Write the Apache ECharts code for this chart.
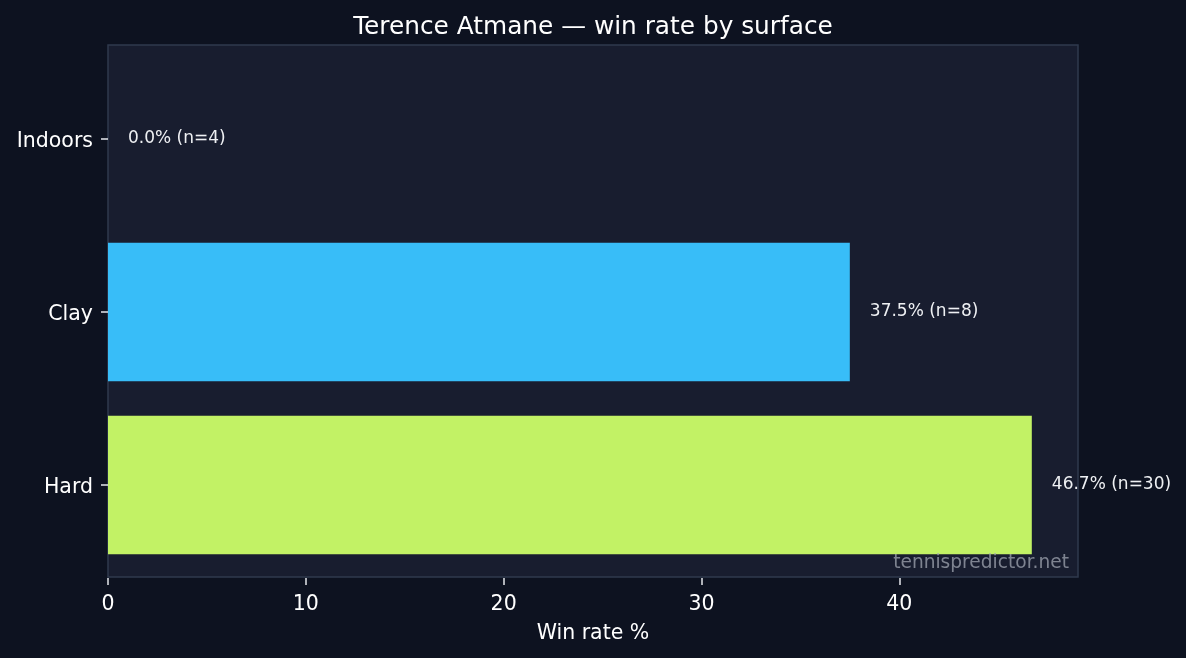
<!DOCTYPE html>
<html>
<head>
<meta charset="utf-8">
<script src="https://cdn.jsdelivr.net/npm/echarts@6/dist/echarts.min.js"></script>
<style>
  html, body { margin: 0; padding: 0; background: #0d1220; }
  #chart { width: 1186px; height: 658px; }
</style>
</head>
<body>
<div id="chart"></div>
<script>
// surfaces, bottom to top like the picture
const surfaces = ['Hard', 'Clay', 'Indoors'];
const winRates = [46.7, 37.5, 0.0];
const matchCounts = [30, 8, 4];
const barColors = ['#c2f265', '#38bdf8', '#64748b'];
const xTicks = [0, 10, 20, 30, 40];
const xMax = 49.035;

const chart = echarts.init(document.getElementById('chart'));

const option = {
  backgroundColor: '#0d1220',
  textStyle: { fontFamily: 'DejaVu Sans' },
  title: {
    text: 'Terence Atmane \u2014 win rate by surface',
    left: 'center',
    top: 10,
    textStyle: { color: '#ffffff', fontSize: 24.8, fontWeight: 'normal', fontFamily: 'DejaVu Sans' }
  },
  // plot frame (matplotlib axes patch)
  graphic: [
    {
      type: 'rect',
      z: -1,
      shape: { x: 108, y: 45, width: 970, height: 532 },
      style: { fill: '#181d2f', stroke: '#2f3a4d', lineWidth: 1.5 },
      silent: true
    },
    {
      type: 'text',
      z: 10,
      x: 1069, y: 573,
      style: {
        text: 'tennispredictor.net',
        fill: 'rgba(160,166,178,0.75)',
        font: '18.6px "DejaVu Sans"',
        textAlign: 'right',
        textVerticalAlign: 'bottom'
      },
      silent: true
    }
  ],
  grid: {
    left: 108,
    right: 108,
    top: 52.5,
    bottom: 86.5,
    outerBoundsMode: 'none'
  },
  xAxis: {
    type: 'value',
    min: 0,
    max: xMax,
    offset: 6.5,
    splitLine: { show: false },
    axisLine: { show: false },
    axisTick: { show: true, length: 7, customValues: xTicks, lineStyle: { color: '#e5e7eb', width: 1.5 } },
    axisLabel: { customValues: xTicks, color: '#ffffff', fontSize: 20.5, margin: 16 },
    name: 'Win rate %',
    nameLocation: 'middle',
    nameGap: 45,
    nameTextStyle: { color: '#ffffff', fontSize: 20.5 }
  },
  yAxis: {
    type: 'category',
    data: surfaces,
    axisLine: { show: false },
    axisTick: { show: true, alignWithLabel: true, length: 7, lineStyle: { color: '#e5e7eb', width: 1.5 } },
    axisLabel: {
      margin: 15,
      formatter: v => '{s|' + v + '}',
      rich: { s: { color: '#ffffff', fontSize: 20.5, fontFamily: 'DejaVu Sans', padding: [6, 0, 0, 0] } }
    },
    splitLine: { show: false }
  },
  series: [{
    type: 'bar',
    barWidth: '80%',
    data: winRates.map((v, i) => ({ value: v, itemStyle: { color: barColors[i] } })),
    label: {
      show: true,
      position: 'right',
      distance: 20,
      color: '#eef0f3',
      fontSize: 17,
      formatter: p => p.value.toFixed(1) + '% (n=' + matchCounts[p.dataIndex] + ')'
    },
    animation: false
  }]
};

chart.setOption(option);
</script>
</body>
</html>
